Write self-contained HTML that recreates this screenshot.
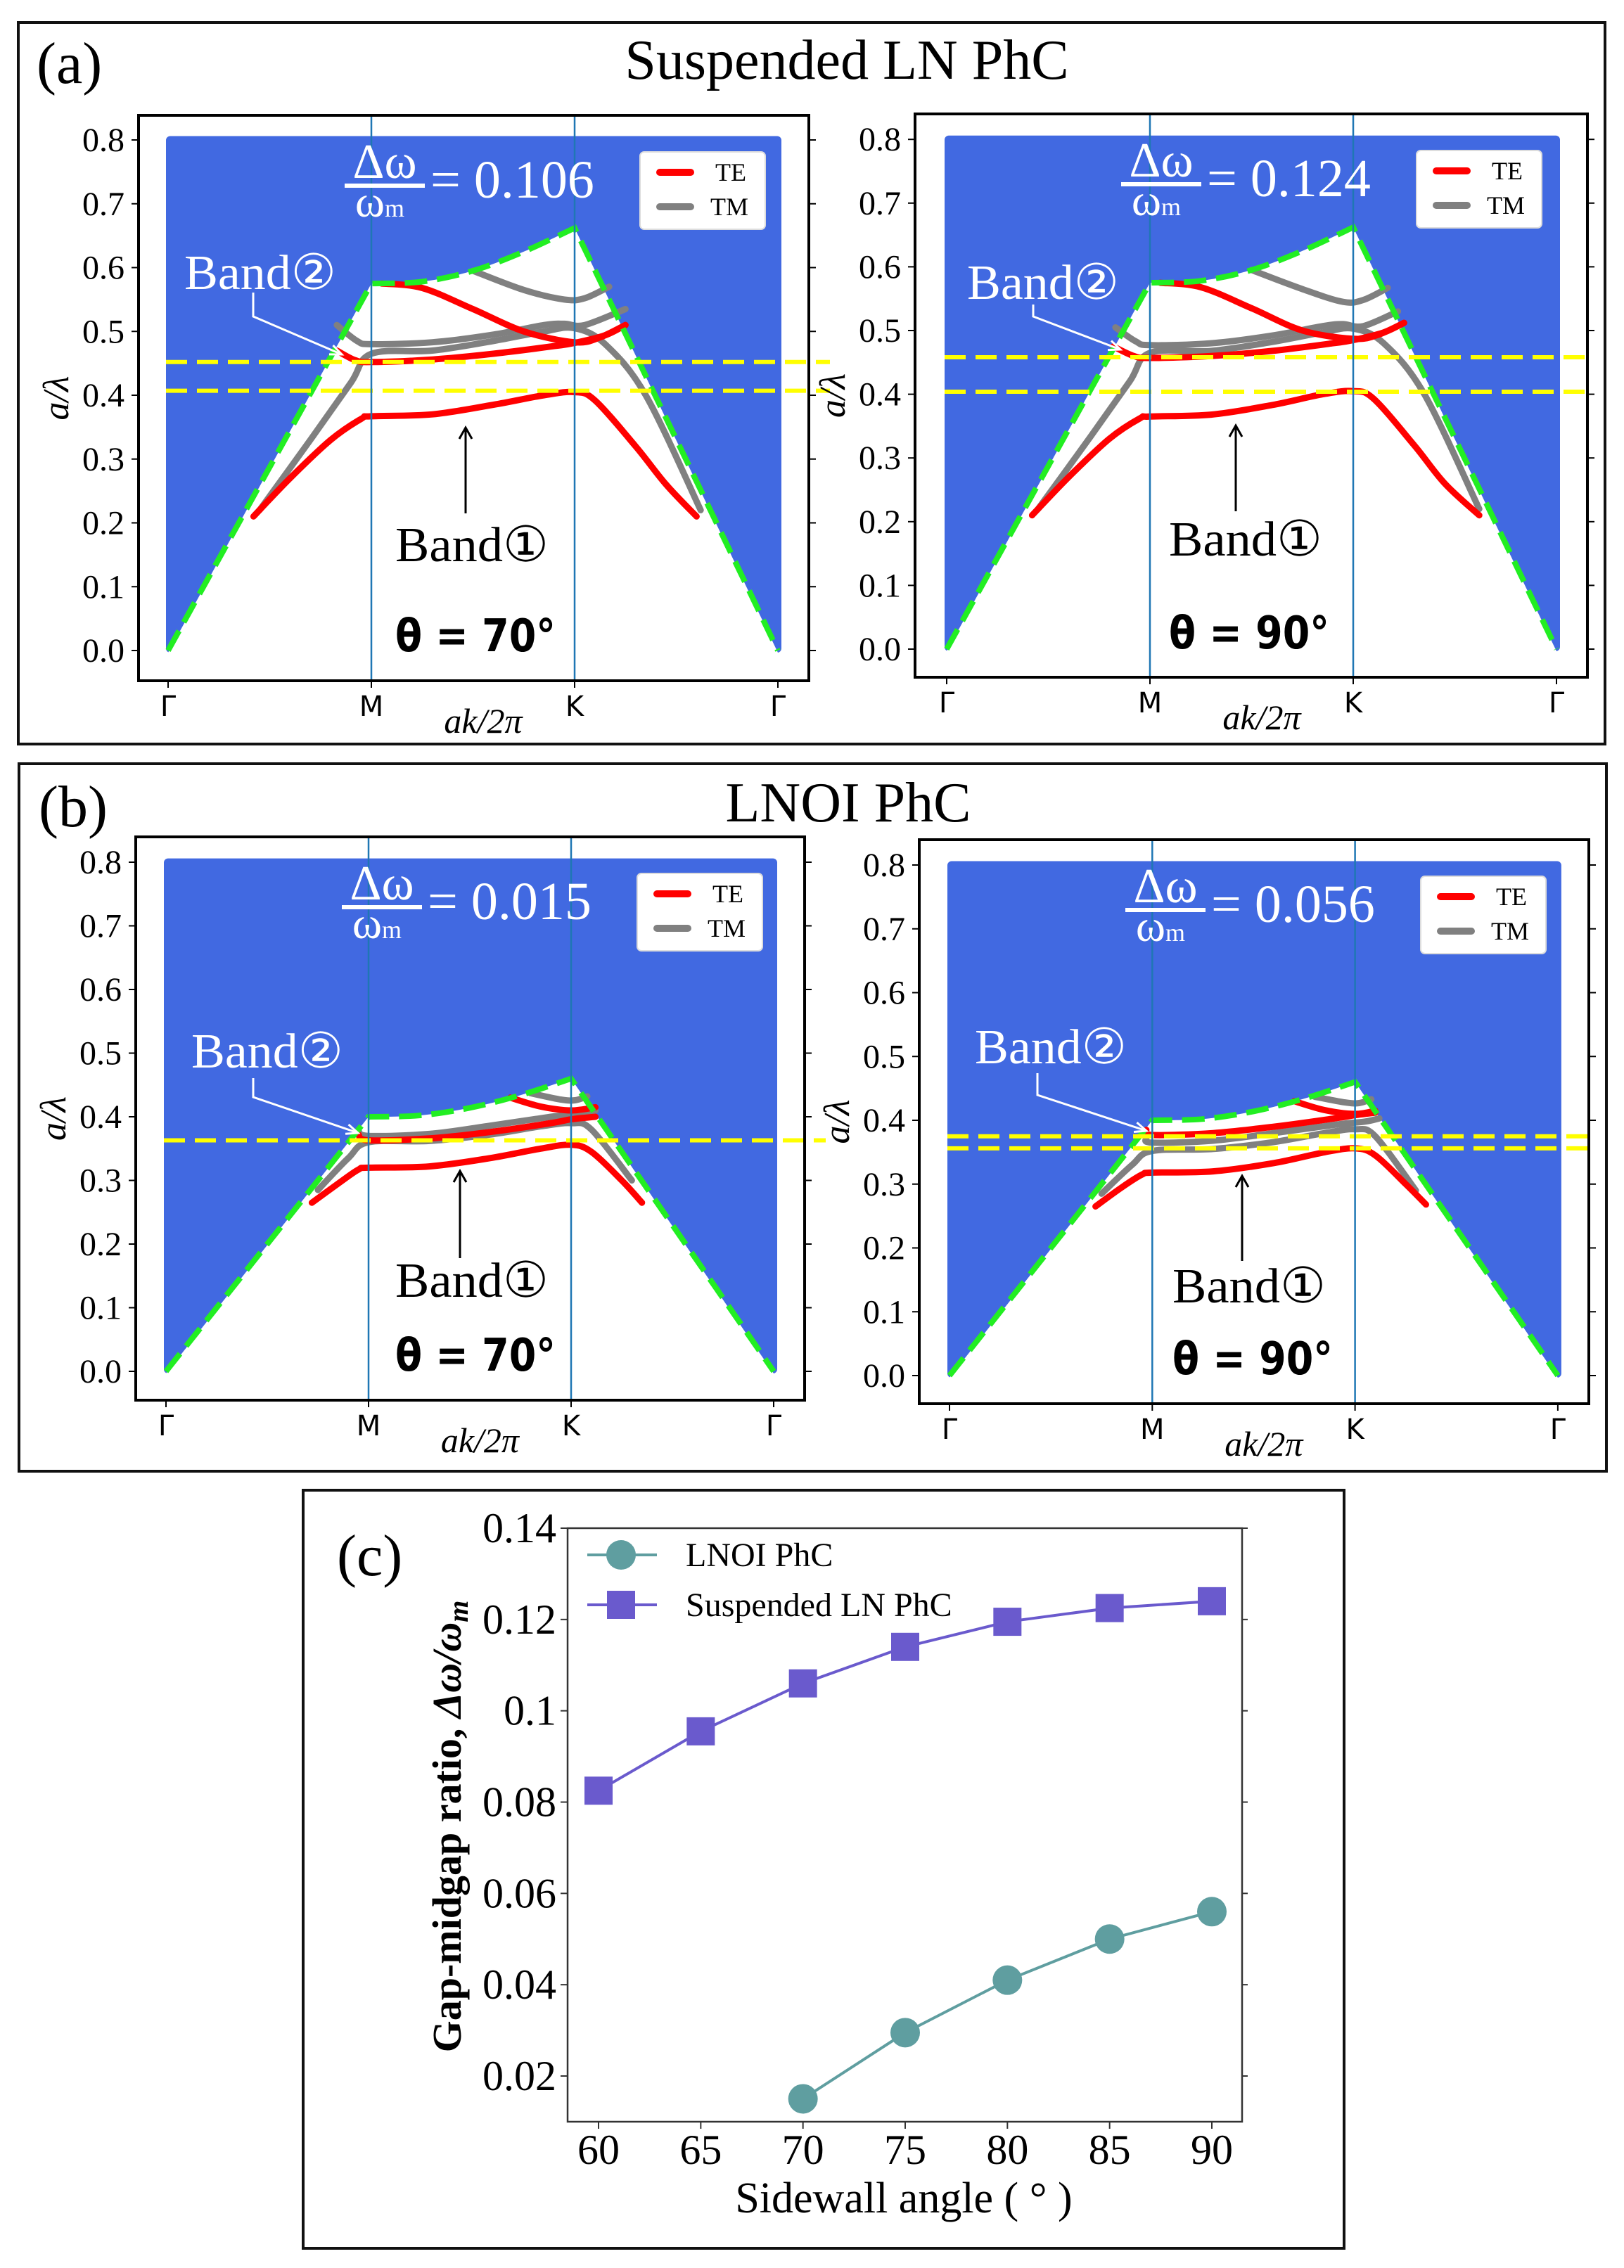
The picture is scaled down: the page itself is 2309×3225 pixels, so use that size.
<!DOCTYPE html>
<html><head><meta charset="utf-8">
<style>
html,body{margin:0;padding:0;background:#fff;}
svg{display:block;}
</style></head>
<body>
<svg id="fig" xmlns="http://www.w3.org/2000/svg" width="2309" height="3225" viewBox="0 0 2309 3225">
<rect x="0" y="0" width="2309" height="3225" fill="#fff"/>
<rect x="26" y="32" width="2256" height="1026" fill="none" stroke="#111" stroke-width="4"/>
<text font-family="Liberation Serif, serif" x="52" y="118" font-size="84">(a)</text>
<text font-family="Liberation Serif, serif" x="1204" y="112" font-size="80" text-anchor="middle">Suspended LN PhC</text>
<rect x="27" y="1086" width="2257" height="1006" fill="none" stroke="#111" stroke-width="4"/>
<text font-family="Liberation Serif, serif" x="55" y="1175" font-size="84">(b)</text>
<text font-family="Liberation Serif, serif" x="1206" y="1168" font-size="80" text-anchor="middle">LNOI PhC</text>
<rect x="431" y="2119" width="1480" height="1078" fill="none" stroke="#111" stroke-width="4"/>
<g id="plots"></g>
<g id="chartc"></g>
</svg>
<script>
// ---------- Band diagram data (t: 0=Γ,1=M,2=K,3=Γ ; y in a/λ) ----------
const bandTicks = ["0.0","0.1","0.2","0.3","0.4","0.5","0.6","0.7","0.8"];
const kLabels = ["Γ","M","K","Γ"];
const gapLabels = ["0.106","0.124","0.015","0.056"];
const thetaLabels = ["θ = 70°","θ = 90°","θ = 70°","θ = 90°"];
const lightA = [[0,0],[1,0.575],[1.25,0.578],[1.5,0.595],[1.75,0.625],[2,0.662],[3,0]];
const lightB = [[0,0],[1,0.40],[1.25,0.402],[1.5,0.414],[1.75,0.434],[2,0.46],[3,0]];
const yellowA1 = [0.452,0.407];
const yellowA2 = [0.458,0.404];
const yellowB1 = [0.363];
const yellowB2 = [0.375,0.356];
const teA1 = [
 [[0.42,0.21],[0.6,0.27],[0.8,0.33],[0.95,0.363],[1,0.367],[1.3,0.37],[1.6,0.385],[1.85,0.40],[2,0.405],[2.1,0.392],[2.3,0.32],[2.45,0.26],[2.6,0.21]],
 [[0.83,0.47],[0.92,0.455],[1,0.452],[1.3,0.456],[1.6,0.465],[1.9,0.477],[2,0.482],[2.15,0.494],[2.25,0.51]],
 [[1.05,0.575],[1.25,0.568],[1.5,0.535],[1.75,0.5],[2,0.483],[2.12,0.49],[2.25,0.51]]
];
const tmA1 = [
 [[0.45,0.22],[0.7,0.33],[0.9,0.42],[1,0.465],[1.3,0.47],[1.6,0.485],[1.85,0.50],[2,0.505],[2.15,0.48],[2.35,0.40],[2.62,0.22]],
 [[0.83,0.51],[0.93,0.485],[1,0.48],[1.3,0.483],[1.6,0.495],[1.85,0.51],[1.95,0.512],[2.05,0.51],[2.25,0.535]],
 [[1.5,0.595],[1.75,0.565],[1.95,0.55],[2.05,0.552],[2.17,0.57]]
];
const teA2 = [
 [[0.42,0.21],[0.6,0.27],[0.8,0.33],[0.95,0.362],[1,0.365],[1.3,0.368],[1.6,0.383],[1.85,0.40],[2,0.405],[2.1,0.393],[2.3,0.32],[2.45,0.26],[2.62,0.21]],
 [[0.82,0.475],[0.92,0.46],[1,0.457],[1.3,0.46],[1.6,0.468],[1.9,0.48],[2,0.485],[2.15,0.497],[2.25,0.512]],
 [[1.05,0.575],[1.25,0.568],[1.5,0.535],[1.75,0.5],[2,0.487],[2.12,0.493],[2.25,0.512]]
];
const tmA2 = [
 [[0.45,0.22],[0.7,0.33],[0.9,0.42],[1,0.465],[1.3,0.468],[1.6,0.482],[1.85,0.497],[2,0.503],[2.15,0.48],[2.35,0.40],[2.62,0.22]],
 [[0.83,0.505],[0.93,0.483],[1,0.477],[1.3,0.48],[1.6,0.492],[1.85,0.507],[1.95,0.51],[2.05,0.507],[2.22,0.53]],
 [[1.5,0.595],[1.75,0.565],[1.95,0.545],[2.05,0.548],[2.17,0.567]]
];
const teB1 = [
 [[0.72,0.265],[0.85,0.295],[0.95,0.317],[1,0.32],[1.3,0.322],[1.6,0.335],[1.85,0.35],[2,0.356],[2.1,0.345],[2.25,0.3],[2.35,0.265]],
 [[0.95,0.372],[1,0.363],[1.3,0.366],[1.6,0.376],[1.9,0.39],[2,0.396],[2.12,0.40]],
 [[1.7,0.43],[1.85,0.416],[2,0.41],[2.12,0.415]]
];
const tmB1 = [
 [[0.75,0.285],[0.9,0.335],[1,0.36],[1.3,0.362],[1.6,0.372],[1.85,0.385],[2,0.39],[2.1,0.38],[2.3,0.30]],
 [[0.95,0.378],[1,0.37],[1.3,0.373],[1.6,0.386],[1.9,0.40],[2.05,0.405],[2.12,0.41]],
 [[1.8,0.437],[1.95,0.427],[2.02,0.426],[2.08,0.432]]
];
const teB2 = [
 [[0.72,0.265],[0.85,0.295],[0.95,0.315],[1,0.318],[1.3,0.32],[1.6,0.333],[1.85,0.35],[2,0.356],[2.1,0.345],[2.25,0.3],[2.35,0.268]],
 [[0.97,0.385],[1,0.377],[1.3,0.38],[1.6,0.39],[1.9,0.403],[2,0.408],[2.1,0.412]],
 [[1.7,0.43],[1.85,0.416],[2,0.41],[2.1,0.415]]
];
const tmB2 = [
 [[0.75,0.285],[0.9,0.33],[1,0.352],[1.3,0.355],[1.6,0.366],[1.85,0.38],[2,0.386],[2.1,0.375],[2.3,0.29]],
 [[0.97,0.372],[1,0.365],[1.3,0.368],[1.6,0.38],[1.9,0.393],[2.05,0.398],[2.12,0.403]],
 [[1.8,0.437],[1.95,0.428],[2.02,0.427],[2.08,0.433]]
];

// ---------- Gap-ratio chart data ----------
const angles = [60,65,70,75,80,85,90];
const suspVals = [0.0825,0.0955,0.106,0.114,0.1195,0.1225,0.124];
const lnoiAngles = [70,75,80,85,90];
const lnoiVals = [0.015,0.0295,0.041,0.050,0.056];
const cYTicks = [0.02,0.04,0.06,0.08,0.1,0.12,0.14];
const cYTickLabels = ["0.02","0.04","0.06","0.08","0.1","0.12","0.14"];
const cXTicks = [60,65,70,75,80,85,90];

const SERIF = "Liberation Serif, serif";
const SANS = "DejaVu Sans, Liberation Sans, sans-serif";
const NS = "http://www.w3.org/2000/svg";
function mk(tag, attrs, parent){
  const e = document.createElementNS(NS, tag);
  for (const k in attrs) e.setAttribute(k, attrs[k]);
  parent.appendChild(e);
  return e;
}
function smooth(pts){
  let d = "M"+pts[0][0].toFixed(1)+","+pts[0][1].toFixed(1);
  for (let i=0;i<pts.length-1;i++){
    const p0=pts[i-1]||pts[i], p1=pts[i], p2=pts[i+1], p3=pts[i+2]||p2;
    const c1=[p1[0]+(p2[0]-p0[0])/6, p1[1]+(p2[1]-p0[1])/6];
    const c2=[p2[0]-(p3[0]-p1[0])/6, p2[1]-(p3[1]-p1[1])/6];
    d += " C"+c1[0].toFixed(1)+","+c1[1].toFixed(1)+" "+c2[0].toFixed(1)+","+c2[1].toFixed(1)+" "+p2[0].toFixed(1)+","+p2[1].toFixed(1);
  }
  return d;
}

const plots = [
 {id:"a-left", fl:197, ft:164, fr:1150, fb:968, g0:239, step:289, y0:925, s:907.5, light:lightA, te:teA1, tm:tmA1, yel:yellowA1, yelExt:30,
  b2:[65,247], b2arrow:[[163,252],[163,286],[289,340]], b1:[365,634], b1arrow:[[465,566],[465,444]], th:[365,762], gi:0},
 {id:"a-right", fl:1301, ft:162, fr:2257, fb:963, g0:1346, step:289, y0:923, s:906, light:lightA, te:teA2, tm:tmA2, yel:yellowA2, yelExt:0,
  b2:[74,263], b2arrow:[[168,271],[168,288],[292,335]], b1:[361,628], b1arrow:[[456,565],[456,443]], th:[361,760], gi:1},
 {id:"b-left", fl:193, ft:1190, fr:1144, fb:1991, g0:236, step:288, y0:1950, s:905, light:lightB, te:teB1, tm:tmB1, yel:yellowB1, yelExt:30,
  b2:[79,328], b2arrow:[[167,343],[167,370],[316,421]], b1:[369,654], b1arrow:[[461,599],[461,475]], th:[369,759], gi:2},
 {id:"b-right", fl:1307, ft:1194, fr:2259, fb:1996, g0:1350, step:288.3, y0:1956, s:907.5, light:lightB, te:teB2, tm:tmB2, yel:yellowB2, yelExt:0,
  b2:[79,318], b2arrow:[[168,332],[168,363],[323,414]], b1:[360,658], b1arrow:[[459,599],[459,478]], th:[360,760], gi:3}
];

const root = document.getElementById("plots");
plots.forEach(P=>{
  const X = t => P.g0 + t*P.step;
  const Y = v => P.y0 - v*P.s;
  const g = mk("g",{},root);
  
  
  const bx0 = X(0)-3, bx1 = X(3)+5, byTop = Y(0.806), byBot = Y(0)+3;
  const fill = mk("rect",{x:bx0,y:byTop,width:bx1-bx0,height:byBot-byTop,rx:6,fill:"#4169e1"},g);
  
  
  const lp = P.light.map(p=>[X(p[0]),Y(p[1])]);
  const mid = lp.slice(1,6);
  let d = "M"+lp[0][0]+","+(lp[0][1]+3)+" L"+lp[1][0]+","+lp[1][1]+" "+smooth(mid).replace(/^M[^ ]+/,"")+" L"+lp[6][0]+","+(lp[6][1]+3)+" Z";
  const wr = mk("path",{d:d,fill:"#fff"},g);
  
  
  const drawBand = (pts,col,name)=>{
    const pp = pts.map(p=>[X(p[0]),Y(p[1])]);
    const e = mk("path",{d:smooth(pp),fill:"none",stroke:col,"stroke-width":9,"stroke-linecap":"round","stroke-linejoin":"round"},g);
    
    
  };
  P.tm.forEach((b,i)=>drawBand(b,"#808080","tm-band-"+(i+1)));
  P.te.forEach((b,i)=>drawBand(b,"#ff0000","te-band-"+(i+1)));
  const ll = mk("path",{d:"M"+lp[0][0]+","+lp[0][1]+" L"+lp[1][0]+","+lp[1][1]+" "+smooth(mid).replace(/^M[^ ]+/,"")+" L"+lp[6][0]+","+lp[6][1],fill:"none",stroke:"#22ee22","stroke-width":8,"stroke-dasharray":"32 14"},g);
  
  
  P.yel.forEach((v,i)=>{
    const e = mk("line",{x1:bx0,x2:P.fr+P.yelExt,y1:Y(v),y2:Y(v),stroke:"#ffff00","stroke-width":6,"stroke-dasharray":"30 14"},g);
    
    
  });
  [1,2].forEach(t=>{
    const e = mk("line",{x1:X(t),x2:X(t),y1:P.ft,y2:P.fb,stroke:"#1f77b4","stroke-width":2.5},g);
    
    
  });
  const fr = mk("rect",{x:P.fl,y:P.ft,width:P.fr-P.fl,height:P.fb-P.ft,fill:"none",stroke:"#000","stroke-width":4},g);
  
  
  bandTicks.forEach((lab,i)=>{
    const y = Y(i/10);
    mk("line",{x1:P.fl-10,x2:P.fl,y1:y,y2:y,stroke:"#000","stroke-width":2},g);
    mk("line",{x1:P.fr,x2:P.fr+10,y1:y,y2:y,stroke:"#000","stroke-width":2},g);
    const t = mk("text",{x:P.fl-20,y:y+16,"font-size":48,"text-anchor":"end","font-family":SERIF},g);
    t.textContent = lab;
    
    
  });
  kLabels.forEach((lab,i)=>{
    const x = X(i);
    mk("line",{x1:x,x2:x,y1:P.fb,y2:P.fb+10,stroke:"#000","stroke-width":2},g);
    const t = mk("text",{x:x,y:P.fb+50,"font-size":40,"text-anchor":"middle","font-family":SANS},g);
    t.textContent = lab;
    
    
  });
  const xl = mk("text",{x:X(1.55),y:P.fb+74,"font-size":50,"text-anchor":"middle","font-family":SERIF,"font-style":"italic"},g);
  xl.textContent = "ak/2π";
  
  
  const yc = (P.ft+P.fb)/2;
  const yl = mk("text",{x:0,y:0,"font-size":52,"text-anchor":"middle","font-family":SERIF,"font-style":"italic",transform:"translate("+(P.fl-100)+","+yc+") rotate(-90)"},g);
  yl.textContent = "a/λ";
  
  
  const lx = P.fl+713, ly = P.ft+52;
  const lg = mk("g",{},g);
  
  
  mk("rect",{x:lx,y:ly,width:178,height:110,rx:6,fill:"#fff",stroke:"#ddd","stroke-width":2},lg);
  mk("line",{x1:lx+28,x2:lx+72,y1:ly+29,y2:ly+29,stroke:"#ff0000","stroke-width":10,"stroke-linecap":"round"},lg);
  mk("line",{x1:lx+28,x2:lx+72,y1:ly+78,y2:ly+78,stroke:"#808080","stroke-width":10,"stroke-linecap":"round"},lg);
  const t1 = mk("text",{x:lx+107,y:ly+41,"font-size":36,"font-family":SERIF},lg); t1.textContent="TE";
  
  
  const t2 = mk("text",{x:lx+100,y:ly+90,"font-size":36,"font-family":SERIF},lg); t2.textContent="TM";
  
  
  const ax = P.fl+293, ay = P.ft+100;
  const an = mk("g",{fill:"#fff","font-family":SERIF},g);
  
  
  const n = mk("text",{x:ax+57,y:ay-11,"font-size":70,"text-anchor":"middle"},an); n.textContent="Δω";
  mk("rect",{x:ax,y:ay-3,width:114,height:6,fill:"#fff"},an);
  const dn = mk("text",{x:ax+50,y:ay+44,"font-size":64,"text-anchor":"middle"},an);
  dn.textContent="ω";
  const sub = mk("tspan",{"font-size":36},dn); sub.textContent="m";
  const ev = mk("text",{x:ax+122,y:ay+17,"font-size":76},an); ev.textContent="= "+gapLabels[P.gi];
  const b2 = mk("text",{x:P.fl+P.b2[0],y:P.ft+P.b2[1],"font-size":70,fill:"#fff","font-family":SERIF,textLength:216,lengthAdjust:"spacingAndGlyphs"},g);
  b2.textContent = "Band②";
  
  
  const a2 = P.b2arrow.map(p=>[P.fl+p[0],P.ft+p[1]]);
  const ar2 = mk("polyline",{points:a2.map(p=>p.join(",")).join(" "),fill:"none",stroke:"#fff","stroke-width":3},g);
  
  
  const [q1,q2] = [a2[1],a2[2]];
  const ang = Math.atan2(q2[1]-q1[1],q2[0]-q1[0]);
  const hd = (a)=>[q2[0]-18*Math.cos(ang+a),q2[1]-18*Math.sin(ang+a)];
  mk("polyline",{points:[hd(0.4),q2,hd(-0.4)].map(p=>p.join(",")).join(" "),fill:"none",stroke:"#fff","stroke-width":3},g);
  const b1 = mk("text",{x:P.fl+P.b1[0],y:P.ft+P.b1[1],"font-size":70,fill:"#000","font-family":SERIF,textLength:218,lengthAdjust:"spacingAndGlyphs"},g);
  b1.textContent = "Band①";
  
  
  const a1 = P.b1arrow.map(p=>[P.fl+p[0],P.ft+p[1]]);
  const ar1 = mk("line",{x1:a1[0][0],y1:a1[0][1],x2:a1[1][0],y2:a1[1][1],stroke:"#000","stroke-width":3},g);
  
  
  mk("polyline",{points:(a1[1][0]-9)+","+(a1[1][1]+16)+" "+a1[1][0]+","+a1[1][1]+" "+(a1[1][0]+9)+","+(a1[1][1]+16),fill:"none",stroke:"#000","stroke-width":3},g);
  const th = mk("text",{x:P.fl+P.th[0],y:P.ft+P.th[1],"font-size":64,"font-weight":"bold",fill:"#000","font-family":SANS,textLength:228,lengthAdjust:"spacingAndGlyphs"},g);
  th.textContent = thetaLabels[P.gi];
  
  
});

// ---------- Chart (c) ----------
(function(){
  const C = document.getElementById("chartc");
  
  
  const L=807, R=1766, T=2173, B=3017;
  const xS = a => 851 + (a-60)/30*(1723-851);
  const yS = v => 2952 - (v-0.02)/0.12*(2952-2173);
  mk("rect",{x:L,y:T,width:R-L,height:B-T,fill:"none",stroke:"#333","stroke-width":2.5},C);
  cYTicks.forEach((v,i)=>{
    const y=yS(v);
    mk("line",{x1:L-10,x2:L,y1:y,y2:y,stroke:"#333","stroke-width":2},C);
    mk("line",{x1:R,x2:R+8,y1:y,y2:y,stroke:"#333","stroke-width":2},C);
    const t=mk("text",{x:L-16,y:y+20,"font-size":60,"text-anchor":"end","font-family":SERIF},C);
    t.textContent=cYTickLabels[i];
    
    
  });
  cXTicks.forEach(a=>{
    const x=xS(a);
    mk("line",{x1:x,x2:x,y1:B,y2:B+10,stroke:"#333","stroke-width":2},C);
    const t=mk("text",{x:x,y:B+60,"font-size":60,"text-anchor":"middle","font-family":SERIF},C);
    t.textContent=String(a);
    
    
  });
  const xt=mk("text",{x:1285,y:3146,"font-size":62,"text-anchor":"middle","font-family":SERIF},C);
  xt.textContent="Sidewall angle ( ° )";
  
  
  const yt=mk("text",{x:0,y:0,"font-size":58,"font-weight":"bold","text-anchor":"middle","font-family":SERIF,transform:"translate(655,2597) rotate(-90)"},C);
  yt.textContent="Gap-midgap ratio, ";
  const ti=mk("tspan",{"font-style":"italic"},yt); ti.textContent="Δω/ω";
  const ts=mk("tspan",{"font-style":"italic","font-size":40,dy:10},yt); ts.textContent="m";
  
  
  const lab=mk("text",{x:479,y:2240,"font-size":84,"font-family":SERIF},C); lab.textContent="(c)";
  
  
  const sp = angles.map((a,i)=>[xS(a),yS(suspVals[i])]);
  const sl = mk("polyline",{points:sp.map(p=>p.join(",")).join(" "),fill:"none",stroke:"#6a5acd","stroke-width":4},C);
  
  
  sp.forEach(p=>{
    const m=mk("rect",{x:p[0]-20,y:p[1]-20,width:40,height:40,fill:"#6a5acd"},C);
    
    
  });
  const lp = lnoiAngles.map((a,i)=>[xS(a),yS(lnoiVals[i])]);
  const ll = mk("polyline",{points:lp.map(p=>p.join(",")).join(" "),fill:"none",stroke:"#5f9ea0","stroke-width":4},C);
  
  
  lp.forEach(p=>{
    const m=mk("circle",{cx:p[0],cy:p[1],r:21,fill:"#5f9ea0"},C);
    
    
  });
  const lg=mk("g",{},C);
  
  
  mk("line",{x1:835,x2:934,y1:2211,y2:2211,stroke:"#5f9ea0","stroke-width":4},lg);
  mk("circle",{cx:883,cy:2211,r:21,fill:"#5f9ea0"},lg);
  mk("line",{x1:835,x2:934,y1:2282,y2:2282,stroke:"#6a5acd","stroke-width":4},lg);
  mk("rect",{x:863,y:2262,width:40,height:40,fill:"#6a5acd"},lg);
  const e1=mk("text",{x:975,y:2227,"font-size":48,"font-family":SERIF},lg); e1.textContent="LNOI PhC";
  
  
  const e2=mk("text",{x:975,y:2298,"font-size":48,"font-family":SERIF},lg); e2.textContent="Suspended LN PhC";
  
  
})();
</script>
</body></html>
